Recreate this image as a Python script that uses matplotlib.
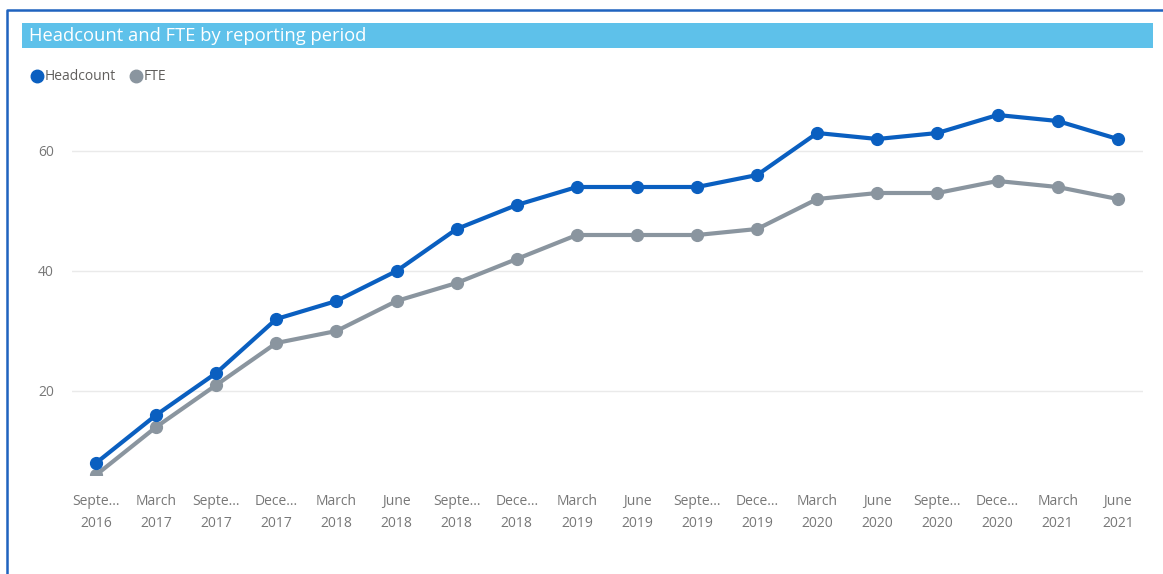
import matplotlib.pyplot as plt
from matplotlib.lines import Line2D
from matplotlib.patches import Rectangle

plt.rcParams['font.family'] = ['Open Sans', 'DejaVu Sans']

# Reporting periods and values
periods = ["Septe...\n2016", "March\n2017", "Septe...\n2017", "Dece...\n2017",
           "March\n2018", "June\n2018", "Septe...\n2018", "Dece...\n2018",
           "March\n2019", "June\n2019", "Septe...\n2019", "Dece...\n2019",
           "March\n2020", "June\n2020", "Septe...\n2020", "Dece...\n2020",
           "March\n2021", "June\n2021"]
headcount = [8, 16, 23, 32, 35, 40, 47, 51, 54, 54, 54, 56, 63, 62, 63, 66, 65, 62]
fte = [6, 14, 21, 28, 30, 35, 38, 42, 46, 46, 46, 47, 52, 53, 53, 55, 54, 52]
y_ticks = [20, 40, 60]

W, H = 1163, 574
fig = plt.figure(figsize=(W / 100, H / 100), dpi=100)

def fx(x):
    return x / W

def fy(y):
    return 1 - y / H

# outer visual border (left and top edges)
fig.add_artist(Line2D([fx(7), fx(7), fx(W)], [fy(H), fy(10), fy(10)],
                      color='#1F63BF', lw=1.8))

# title bar
fig.add_artist(Rectangle((fx(22), fy(48)), fx(1153) - fx(22), fy(23) - fy(48),
                         color='#5EC1EA', lw=0))
fig.text(fx(29), fy(36), "Headcount and FTE by reporting period",
         color='white', fontsize=13.2, va='center', ha='left')

# legend
blue = '#0A5FC0'
grey = '#8A959F'
fig.add_artist(Line2D([fx(37)], [fy(76)], marker='o', color=blue, ms=9, lw=0))
fig.text(fx(45), fy(76), "Headcount", color='#605E5C', fontsize=10, va='center')
fig.add_artist(Line2D([fx(136)], [fy(76)], marker='o', color=grey, ms=9, lw=0))
fig.text(fx(144), fy(76), "FTE", color='#605E5C', fontsize=10, va='center')

ax = fig.add_axes([fx(72), fy(475), fx(1143) - fx(72), fy(91) - fy(475)])
x = list(range(len(periods)))
ax.plot(x, headcount, color=blue, lw=3, marker='o', ms=8.5, zorder=3)
ax.plot(x, fte, color=grey, lw=3, marker='o', ms=8.5, zorder=2)

ax.set_xlim(-0.4, len(periods) - 1 + 0.42)
ax.set_ylim(6, 70)
ax.set_yticks(y_ticks)
ax.set_xticks(x)
ax.set_xticklabels(periods, linespacing=1.6)
ax.tick_params(axis='both', length=0, labelcolor='#777777', labelsize=10)
ax.tick_params(axis='x', pad=14)
ax.tick_params(axis='y', pad=13)
ax.grid(axis='y', color='#EAEAEA', lw=1)
ax.set_axisbelow(True)
for s in ax.spines.values():
    s.set_visible(False)

fig.savefig('out.png', dpi=100)
